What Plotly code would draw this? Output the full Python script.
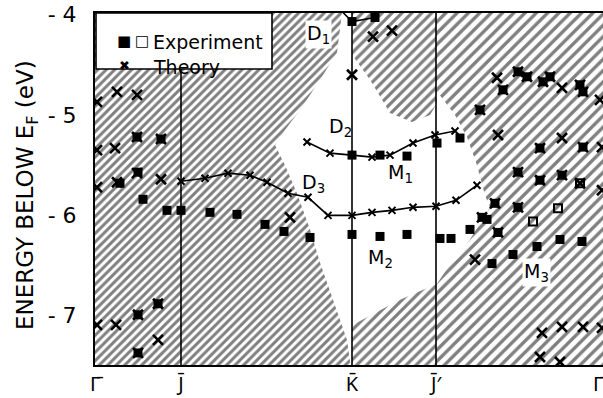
import plotly.graph_objects as go

# ---- symmetry points along the k path ----
kpt_x = [0.0, 0.86, 2.57, 3.41, 5.03]
kpt_labels = ["Γ\u0304", "J\u0304", "K\u0304", "J\u0304\u2032", "Γ\u0304"]

# ---- gap in the projected bulk bands (unhatched region) ----
gap_x = [2.48, 2.57, 2.57, 2.75, 2.95, 3.17, 3.35, 3.41, 3.43, 3.60, 3.72, 3.82, 3.90, 3.95,
         3.75, 3.55, 3.42, 3.05, 2.58, 2.57, 2.57, 2.52, 2.45, 2.38, 2.25, 2.15, 2.02, 1.90,
         1.80, 1.90, 2.05, 2.25, 2.42, 2.48]
gap_e = [-3.90, -3.90, -4.40, -4.65, -4.98, -5.07, -5.00, -4.90, -4.78, -5.00, -5.22, -5.50, -5.80, -5.92,
         -6.24, -6.49, -6.68, -6.84, -7.09, -7.09, -7.60, -7.24, -7.04, -6.84, -6.47, -6.14, -5.78, -5.50,
         -5.30, -5.15, -4.95, -4.65, -4.38, -3.90]

# ---- theory surface-state curves ----
d1_x = [2.48, 2.57, 2.80]
d1_e = [-3.98, -4.07, -4.03]
d2_x = [2.12, 2.35, 2.57, 2.77, 2.95, 3.18, 3.40, 3.60]
d2_e = [-5.27, -5.38, -5.40, -5.42, -5.40, -5.28, -5.20, -5.16]
d3_x = [0.86, 1.10, 1.33, 1.55, 1.72, 1.93, 2.13, 2.33, 2.57, 2.77, 2.97, 3.18, 3.41, 3.61, 3.82]
d3_e = [-5.66, -5.63, -5.58, -5.60, -5.67, -5.78, -5.82, -6.00, -6.00, -5.97, -5.95, -5.92, -5.91, -5.85, -5.70]

# ---- theory points (x) ----
theory_x = [0.02, 0.22, 0.42, 0.02, 0.20, 0.42, 0.66, 0.02, 0.22, 0.42, 0.66,
            0.02, 0.21, 0.43, 0.63, 0.63, 0.43,
            1.95, 2.57, 2.78, 2.97,
            4.02, 4.08, 4.23, 4.32, 4.48, 4.55, 4.67, 4.85, 4.88, 5.05,
            3.85, 4.03, 4.45, 4.67, 4.88, 5.07,
            4.23, 4.45, 4.67, 4.85, 5.07,
            3.87, 4.00, 4.23, 4.03, 3.80,
            4.47, 4.67, 4.88, 5.07, 4.45, 4.65]
theory_e = [-4.87, -4.77, -4.80, -5.35, -5.33, -5.22, -5.24, -5.72, -5.67, -5.58, -5.64,
            -7.09, -7.09, -6.99, -6.88, -7.24, -7.37,
            -6.02, -4.60, -4.22, -4.16,
            -4.63, -4.75, -4.57, -4.62, -4.67, -4.62, -4.73, -4.70, -4.77, -4.85,
            -4.95, -5.20, -5.33, -5.23, -5.32, -5.32,
            -5.57, -5.65, -5.60, -5.68, -5.75,
            -6.02, -5.88, -5.92, -6.17, -6.44,
            -7.17, -7.11, -7.11, -7.12, -7.41, -7.46]

# ---- experiment (filled squares) ----
exp_x = [0.25, 0.43, 0.48, 0.72, 0.86, 0.43, 0.63, 0.43, 0.42, 0.66,
         1.15, 1.42, 1.70, 1.89, 2.15,
         2.57, 2.85, 3.12, 3.45, 3.56,
         2.57, 2.85, 3.12, 3.42, 3.65, 2.57, 2.80,
         3.75, 3.92, 3.87, 4.00, 4.23, 4.03, 3.97, 4.18, 4.42, 4.65, 4.87,
         4.08, 4.23, 4.32, 4.48, 4.55, 4.85, 4.88, 3.85, 4.45, 4.88, 4.23, 4.45, 4.67]
exp_e = [-5.68, -5.57, -5.84, -5.95, -5.95, -6.99, -6.88, -7.37, -5.22, -5.24,
         -5.97, -5.99, -6.09, -6.16, -6.22,
         -6.19, -6.21, -6.19, -6.23, -6.23,
         -5.40, -5.40, -5.41, -5.28, -5.23, -4.07, -4.03,
         -6.14, -6.04, -6.02, -5.88, -5.92, -6.17, -6.48, -6.39, -6.31, -6.24, -6.26,
         -4.75, -4.57, -4.62, -4.67, -4.62, -4.70, -4.77, -4.95, -5.33, -5.32, -5.57, -5.65, -5.60]

# ---- experiment (open squares) ----
exp_open_x = [4.38, 4.63, 4.85]
exp_open_e = [-6.06, -5.93, -5.68]

# ---- region labels ----
lab_text = ["D<sub>1</sub>", "D<sub>2</sub>", "D<sub>3</sub>", "M<sub>1</sub>", "M<sub>2</sub>", "M<sub>3</sub>"]
lab_x = [2.23, 2.45, 2.18, 3.05, 2.85, 4.41]
lab_e = [-4.20, -5.13, -5.68, -5.58, -6.43, -6.57]
lab_bg = [True, False, False, False, False, True]

X_MAX = 5.08
Y_MIN, Y_MAX = -7.49, -3.985
FONT = "DejaVu Sans"

fig = go.Figure()

# hatched bulk regions
hatch = [(kpt_x[0], kpt_x[2], 6, 0.5), (kpt_x[2], kpt_x[3], 7, 0.45), (kpt_x[3], X_MAX + 0.1, 8, 0.42)]
for x0, x1, sz, sol in hatch:
    fig.add_trace(go.Scatter(
        x=[x0, x1, x1, x0, x0], y=[-7.7, -7.7, -3.8, -3.8, -7.7],
        mode="lines", line=dict(width=0), fill="toself", fillcolor="white",
        fillpattern=dict(shape="/", size=sz, solidity=sol, fgcolor="black", bgcolor="white"),
        hoverinfo="skip"))

# band gap (white)
fig.add_trace(go.Scatter(x=gap_x, y=gap_e, mode="lines", line=dict(width=0),
                         fill="toself", fillcolor="white", hoverinfo="skip"))

# vertical symmetry lines
for xv in kpt_x[1:4]:
    fig.add_trace(go.Scatter(x=[xv, xv], y=[-7.7, -3.8], mode="lines",
                             line=dict(color="black", width=1.6), hoverinfo="skip"))

# theory curves
for cx, ce, msz in [(d1_x, d1_e, [0, 7, 7]), (d2_x, d2_e, 7), (d3_x, d3_e, 7)]:
    fig.add_trace(go.Scatter(x=cx, y=ce, mode="lines+markers",
                             line=dict(color="black", width=1.6),
                             marker=dict(symbol="x-thin", size=msz, color="black",
                                         line=dict(color="black", width=2))))

# experiment
fig.add_trace(go.Scatter(x=exp_x, y=exp_e, mode="markers",
                         marker=dict(symbol="square", size=9, color="black")))
fig.add_trace(go.Scatter(x=exp_open_x, y=exp_open_e, mode="markers",
                         marker=dict(symbol="square-open", size=8, color="black",
                                     line=dict(color="black", width=2))))
# theory points
fig.add_trace(go.Scatter(x=theory_x, y=theory_e, mode="markers",
                         marker=dict(symbol="x-thin", size=10, color="black",
                                     line=dict(color="black", width=2.6))))

ann = []
for t, x, e, bg in zip(lab_text, lab_x, lab_e, lab_bg):
    ann.append(dict(x=x, y=e, xref="x", yref="y", text=t, showarrow=False,
                    font=dict(family=FONT, size=19, color="black"),
                    bgcolor="white" if bg else "rgba(0,0,0,0)", borderpad=1))

W = 508.0
H = 352.0
def px_x(p):
    return (p - 95) / W
def px_y(p):
    return (365 - p) / H

shapes = [dict(type="rect", xref="paper", yref="paper",
               x0=px_x(96), x1=px_x(272), y0=px_y(69), y1=px_y(13),
               fillcolor="white", line=dict(color="black", width=1.6))]

# y axis title
ann.append(dict(x=px_x(10), y=px_y(195), xref="paper", yref="paper",
                text="ENERGY BELOW E<sub>F</sub> (eV)", textangle=-90, showarrow=False,
                font=dict(family=FONT, size=23, color="black")))
# legend texts
ann.append(dict(x=px_x(151), y=px_y(29), xref="paper", yref="paper", xanchor="left",
                text="Experiment", showarrow=False, font=dict(family=FONT, size=19, color="black")))
ann.append(dict(x=px_x(151), y=px_y(54), xref="paper", yref="paper", xanchor="left",
                text="Theory", showarrow=False, font=dict(family=FONT, size=19, color="black")))
ann.append(dict(x=px_x(115), y=px_y(30), xref="paper", yref="paper",
                text="\u25A0", showarrow=False, font=dict(family=FONT, size=15, color="black")))
ann.append(dict(x=px_x(133), y=px_y(30), xref="paper", yref="paper",
                text="\u25A1", showarrow=False, font=dict(family=FONT, size=15, color="black")))
ann.append(dict(x=px_x(117), y=px_y(56), xref="paper", yref="paper",
                text="\u2716", showarrow=False, font=dict(family=FONT, size=13, color="black")))

fig.update_layout(
    width=603, height=398,
    margin=dict(l=95, r=0, t=13, b=33),
    paper_bgcolor="white", plot_bgcolor="white",
    showlegend=False,
    font=dict(family=FONT, color="black"),
    annotations=ann,
    shapes=shapes,
    xaxis=dict(range=[0, X_MAX], tickvals=kpt_x, ticktext=kpt_labels, automargin=False,
               showline=True, mirror=True, linecolor="black", linewidth=2,
               ticks="", showgrid=False, zeroline=False, ticklabelstandoff=0,
               ticklabeloverflow="allow",
               tickfont=dict(family="Noto Sans", size=20, color="black")),
    yaxis=dict(range=[Y_MIN, Y_MAX], tickvals=[-7, -6, -5, -4], automargin=False,
               ticktext=["- 7", "- 6", "- 5", "- 4"],
               showline=True, linecolor="black", linewidth=2,
               ticks="", showgrid=False, zeroline=False, ticklabelstandoff=12,
               tickfont=dict(family=FONT, size=22, color="black")),
)

fig.write_html("out.html", config={"displayModeBar": False},
               post_script="document.body.style.margin='0px';document.body.style.overflow='hidden';")
